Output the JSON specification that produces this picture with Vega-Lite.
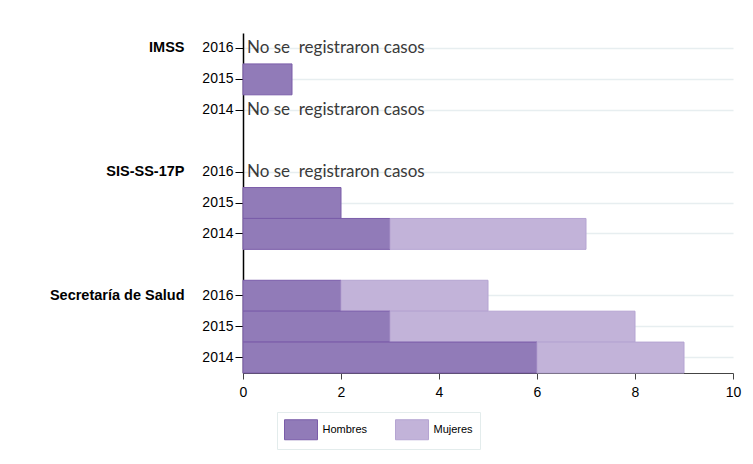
{
  "$schema": "https://vega.github.io/schema/vega-lite/v6.json",
  "width": 490,
  "height": 340,
  "autosize": "none",
  "padding": {"left": 243, "top": 33, "right": 20, "bottom": 91},
  "config": {"view": {"stroke": null}, "font": "Liberation Sans"},
  "datasets": {
    "casos": [
      {"grupo": "IMSS", "anio": 2015, "sexo": "Hombres", "casos": 1},
      {"grupo": "SIS-SS-17P", "anio": 2015, "sexo": "Hombres", "casos": 2},
      {"grupo": "SIS-SS-17P", "anio": 2014, "sexo": "Hombres", "casos": 3},
      {"grupo": "SIS-SS-17P", "anio": 2014, "sexo": "Mujeres", "casos": 4},
      {"grupo": "Secretaría de Salud", "anio": 2016, "sexo": "Hombres", "casos": 2},
      {"grupo": "Secretaría de Salud", "anio": 2016, "sexo": "Mujeres", "casos": 3},
      {"grupo": "Secretaría de Salud", "anio": 2015, "sexo": "Hombres", "casos": 3},
      {"grupo": "Secretaría de Salud", "anio": 2015, "sexo": "Mujeres", "casos": 5},
      {"grupo": "Secretaría de Salud", "anio": 2014, "sexo": "Hombres", "casos": 6},
      {"grupo": "Secretaría de Salud", "anio": 2014, "sexo": "Mujeres", "casos": 3}
    ],
    "notas": [
      {"grupo": "IMSS", "anio": 2016, "texto": "No se\u00a0 registraron casos"},
      {"grupo": "IMSS", "anio": 2014, "texto": "No se\u00a0 registraron casos"},
      {"grupo": "SIS-SS-17P", "anio": 2016, "texto": "No se\u00a0 registraron casos"}
    ]
  },
  "layer": [
    {
      "data": {"name": "casos"},
      "transform": [{"calculate": "datum.grupo + '|' + datum.anio", "as": "fila"}],
      "mark": {"type": "bar", "strokeWidth": 1},
      "encoding": {
        "y": {
          "field": "fila", "type": "nominal",
          "scale": {"type": "band", "paddingInner": 0, "paddingOuter": 0,
            "domain": ["IMSS|2016", "IMSS|2015", "IMSS|2014", "gap1", "SIS-SS-17P|2016", "SIS-SS-17P|2015", "SIS-SS-17P|2014", "gap2", "Secretaría de Salud|2016", "Secretaría de Salud|2015", "Secretaría de Salud|2014"]},
          "axis": {
            "orient": "left", "title": null,
            "values": ["IMSS|2016", "IMSS|2015", "IMSS|2014", "SIS-SS-17P|2016", "SIS-SS-17P|2015", "SIS-SS-17P|2014", "Secretaría de Salud|2016", "Secretaría de Salud|2015", "Secretaría de Salud|2014"],
            "labelExpr": "split(datum.value, '|')[1]",
            "labelFontSize": 14, "labelColor": "#000000", "labelPadding": 2,
            "tickColor": "#000000", "tickSize": 8, "tickWidth": 1,
            "domainColor": "#000000", "domainWidth": 1.5,
            "grid": true, "gridColor": "#e7eef0", "gridWidth": 1.5
          }
        },
        "x": {
          "field": "casos", "type": "quantitative", "stack": "zero",
          "scale": {"domain": [0, 10]},
          "axis": {"title": null, "values": [0, 2, 4, 6, 8, 10], "grid": false, "labelFlush": false,
            "tickSize": 6, "labelPadding": 6, "labelFontSize": 14, "labelColor": "#000000",
            "domainColor": "#444444", "tickColor": "#444444", "domainWidth": 1.2}
        },
        "color": {
          "field": "sexo", "type": "nominal",
          "scale": {"domain": ["Hombres", "Mujeres"], "range": ["#917bb8", "#c2b3d9"]},
          "legend": {"title": null, "orient": "none", "legendX": 34, "legendY": 379, "direction": "horizontal",
            "symbolType": "M-1.65,-1H1.65V1H-1.65Z", "symbolSize": 400, "symbolStrokeWidth": 1, "symbolOffset": 6.5,
            "labelFontSize": 11, "labelColor": "#000000", "labelOffset": 11, "columnPadding": 25,
            "padding": 7, "strokeColor": "#e3ecec"}
        },
        "stroke": {
          "field": "sexo", "type": "nominal",
          "scale": {"domain": ["Hombres", "Mujeres"], "range": ["#7a5ca9", "#b5a4d2"]},
          "legend": {"title": null, "orient": "none", "legendX": 34, "legendY": 379, "direction": "horizontal",
            "symbolType": "M-1.65,-1H1.65V1H-1.65Z", "symbolSize": 400, "symbolStrokeWidth": 1, "symbolOffset": 6.5,
            "labelFontSize": 11, "labelColor": "#000000", "labelOffset": 11, "columnPadding": 25,
            "padding": 7, "strokeColor": "#e3ecec"}
        }
      }
    },
    {
      "data": {"name": "notas"},
      "transform": [{"calculate": "datum.grupo + '|' + datum.anio", "as": "fila"}],
      "mark": {"type": "text", "align": "left", "baseline": "middle", "dx": 4, "font": "Lato", "fontSize": 17, "color": "#3a3a3a"},
      "encoding": {
        "y": {
          "field": "fila", "type": "nominal",
          "scale": {"type": "band", "paddingInner": 0, "paddingOuter": 0,
            "domain": ["IMSS|2016", "IMSS|2015", "IMSS|2014", "gap1", "SIS-SS-17P|2016", "SIS-SS-17P|2015", "SIS-SS-17P|2014", "gap2", "Secretaría de Salud|2016", "Secretaría de Salud|2015", "Secretaría de Salud|2014"]},
          "axis": {
            "orient": "left", "title": null,
            "values": ["IMSS|2016", "SIS-SS-17P|2016", "Secretaría de Salud|2016"],
            "labelExpr": "split(datum.value, '|')[0]",
            "labelFontSize": 14.5, "labelFontWeight": "bold", "labelColor": "#000000",
            "labelPadding": 59, "ticks": false, "tickSize": 0, "domain": false, "grid": false, "labelLimit": 200
          }
        },
        "x": {"datum": 0, "type": "quantitative"},
        "text": {"field": "texto"}
      }
    }
  ],
  "resolve": {"axis": {"y": "independent"}}
}
